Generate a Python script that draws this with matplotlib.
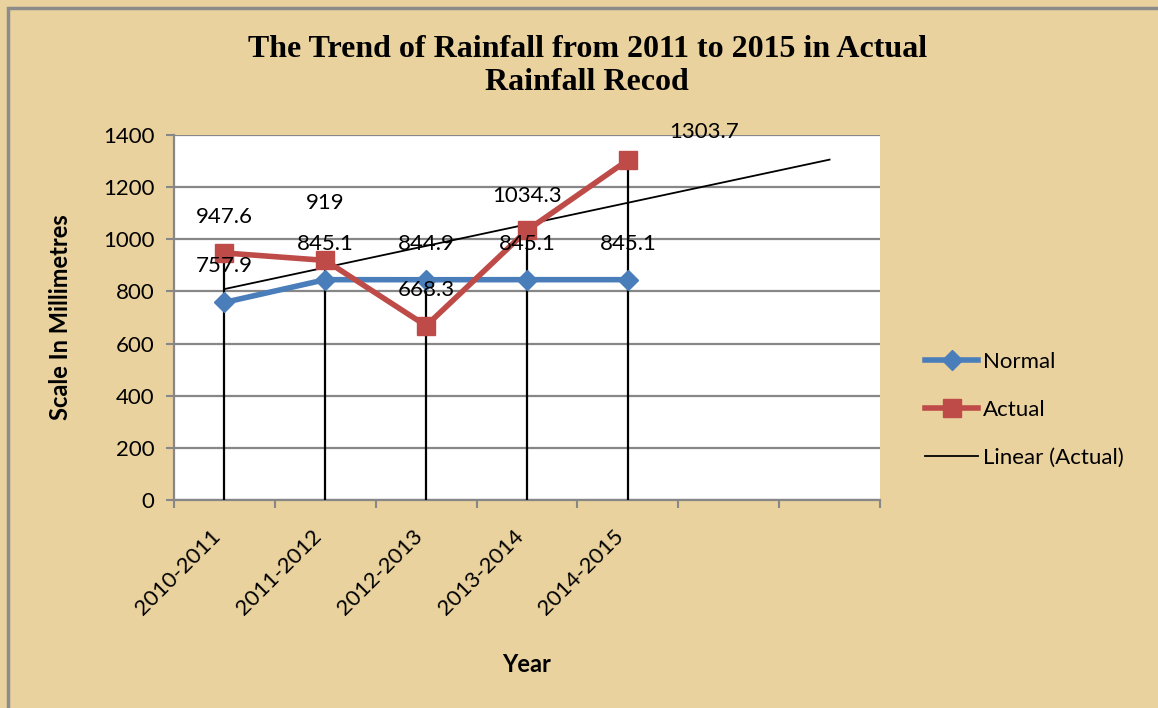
import numpy as np
import matplotlib
matplotlib.use("Agg")
import matplotlib.pyplot as plt
from matplotlib.lines import Line2D

# datos
years = ['2010-2011', '2011-2012', '2012-2013', '2013-2014', '2014-2015', '', '']
normal = [757.9, 845.1, 844.9, 845.1, 845.1]
actual = [947.6, 919, 668.3, 1034.3, 1303.7]

plt.rcParams['font.family'] = ['Lato', 'DejaVu Sans']

fondo = '#EAD29E'
azul = '#4A7EBB'
rojo = '#BE4B48'

fig = plt.figure(figsize=(11.58, 7.08), dpi=100, facecolor=fondo)
# borde gris de la figura
fig.add_artist(plt.Rectangle((8 / 1158, -0.01), 1.02, 1 - 8 / 708 + 0.01,
                             transform=fig.transFigure, fill=False,
                             edgecolor='#8C8C8C', lw=2.5))

ax = fig.add_axes([174 / 1158, 1 - 500 / 708, 706 / 1158, 365 / 708])
ax.set_facecolor('white')

x = np.arange(len(normal))
xt = np.arange(len(years))

# tendencia lineal de Actual, extendida 2 periodos
m, b = np.polyfit(x, actual, 1)
ax.plot(xt, m * xt + b, color='black', lw=1.3, zorder=3, label='Linear (Actual)')

# lineas de caida
tope = np.maximum(normal, actual)
ax.vlines(x, 0, tope, color='black', lw=1.6, zorder=4)

ax.plot(x, normal, color=azul, lw=4, marker='D', ms=10, zorder=5, label='Normal')
ax.plot(x, actual, color=rojo, lw=4, marker='s', ms=13, zorder=6, label='Actual')

# etiquetas de datos
fs = 16
off_n = [(0, 26)] * 5
off_a = [(0, 26), (0, 41), (0, 26), (0, 25), (55, 20)]
for i in range(len(normal)):
    ax.annotate(f'{normal[i]:g}', (x[i], normal[i]), xytext=off_n[i],
                textcoords='offset points', ha='center', va='center',
                fontsize=fs, zorder=7, annotation_clip=False)
    ax.annotate(f'{actual[i]:g}', (x[i], actual[i]), xytext=off_a[i],
                textcoords='offset points', ha='center', va='center',
                fontsize=fs, zorder=7, annotation_clip=False)

ax.set_xlim(-0.5, len(years) - 0.5)
ax.set_ylim(0, 1400)
ax.set_yticks(np.arange(0, 1401, 200))
ax.grid(axis='y', color='#878787', lw=1.6, zorder=1)
ax.set_axisbelow(True)

ax.set_xticks(xt)
ax.set_xticklabels(years, rotation=45, ha='right', va='top', fontsize=fs)
ax.set_xticks(np.arange(-0.5, len(years)), minor=True)
ax.tick_params(axis='x', which='major', length=0, pad=19)
ax.tick_params(axis='x', which='minor', length=6, color='#878787', width=1.5)
ax.tick_params(axis='y', length=6, color='#878787', width=1.5, labelsize=fs, pad=8)

for s in ['top', 'right']:
    ax.spines[s].set_visible(False)
for s in ['left', 'bottom']:
    ax.spines[s].set_color('#878787')
    ax.spines[s].set_linewidth(1.6)

ax.set_ylabel('Scale In Millimetres', fontsize=17, fontweight='bold', labelpad=22)
ax.set_xlabel('Year', fontsize=17, fontweight='bold', labelpad=24)

fig.text(0.507, 1 - 66 / 708, 'The Trend of Rainfall from 2011 to 2015 in Actual\nRainfall Recod',
         ha='center', va='center', fontsize=23, fontweight='bold',
         family='Liberation Serif', linespacing=1.2)

h = [Line2D([], [], color=azul, lw=4, marker='D', ms=10),
     Line2D([], [], color=rojo, lw=4, marker='s', ms=13),
     Line2D([], [], color='black', lw=1.3)]
fig.legend(h, ['Normal', 'Actual', 'Linear (Actual)'], loc='center left',
           bbox_to_anchor=(905 / 1158, 1 - 410 / 708), frameon=False,
           fontsize=fs, handlelength=2.4, labelspacing=1.25, handletextpad=0.2)

fig.savefig('out.png', dpi=100, facecolor=fondo)
